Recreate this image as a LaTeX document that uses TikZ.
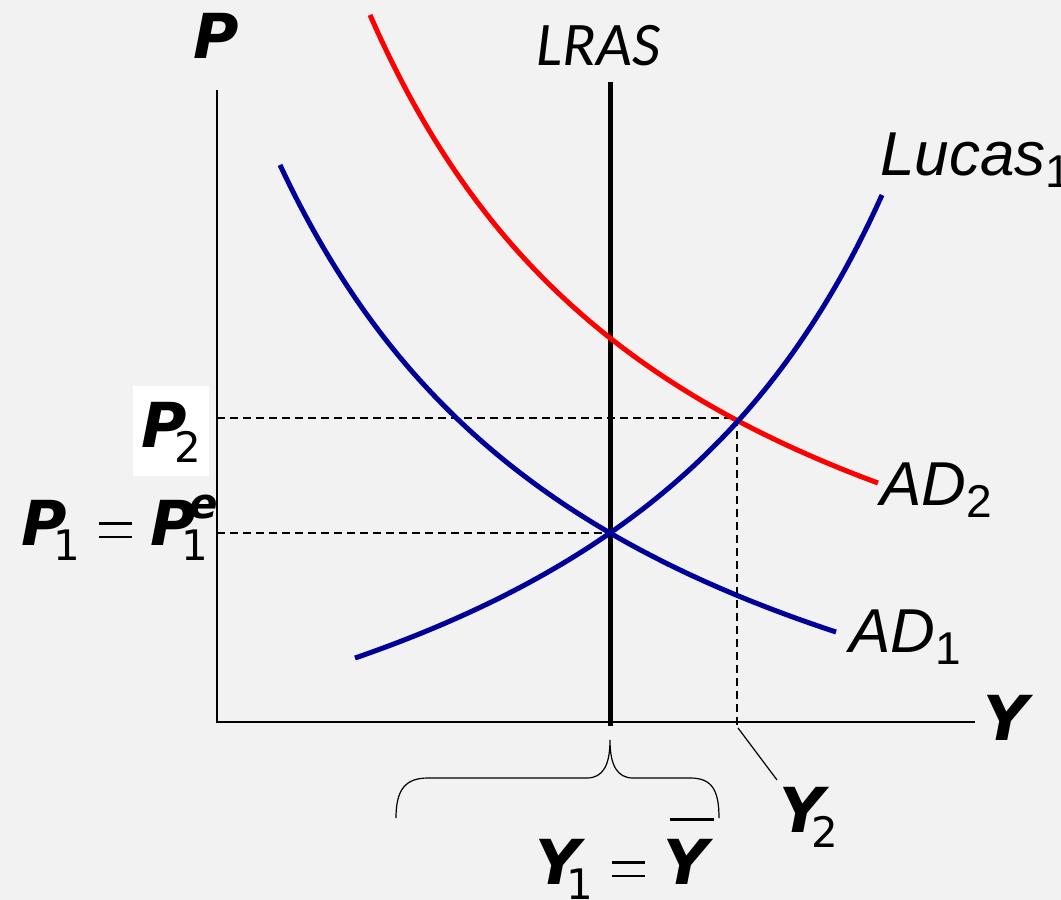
\documentclass[tikz,border=0pt]{standalone}
\usepackage{fontspec}
\setmainfont{Liberation Sans}
\newfontfamily\dv{DejaVu Sans}
\newfontfamily\carl{Carlito}
\newcommand\BI[1]{{\dv\bfseries\itshape #1}}
\newcommand\mysub[2][-7.5pt]{\raisebox{#1}{\dv\fontsize{21}{21}\selectfont #2}}
\newcommand\arsub[1]{\raisebox{-6pt}{\upshape\fontsize{23}{23}\selectfont #1}}
\newcommand\myeq{\rlap{\raisebox{10pt}{\rule{16.5pt}{1.3pt}}}\raisebox{3.3pt}{\rule{16.5pt}{1.3pt}}}
\definecolor{bg}{HTML}{F2F2F2}
\definecolor{navy}{HTML}{000099}
\tikzset{
  lbl/.style={inner sep=0pt, font=\fontsize{31}{31}\selectfont},
  curve/.style={line width=2.5pt},
  axis/.style={line width=1pt, black},
  guide/.style={line width=0.6pt, dash pattern=on 4pt off 2.5pt},
  thin/.style={line width=0.6pt},
}
\begin{document}
\begin{tikzpicture}[x=0.5pt,y=-0.5pt]
\fill[bg] (0,0) rectangle (1061,900);
\useasboundingbox (0,0) rectangle (1061,900);
\coordinate (O) at (217,722);
\coordinate (Ytop) at (217,90);
\coordinate (Xend) at (975,722);
\coordinate (E1) at (610,533);
\coordinate (E2) at (737,418);
% axes
\draw[axis] (Ytop) -- (O) -- (Xend);
% guides
\draw[guide] (O |- E2) -- (E2);
\draw[guide] (O |- E1) -- (E1);
\draw[guide] (E2) -- (E2 |- O) -- ++(0,4);
% LRAS
\draw[line width=2.5pt] (610,82) -- (610,726);
% curves
\draw[curve, navy] plot[domain=280:836, samples=90] (\x,{934.1-276.653/((\x+79.7)/1000)});
\draw[curve, red] plot[domain=370:878, samples=90] (\x,{797.6-267.258/((\x-28.5)/1000)});
\draw[curve, navy] plot[domain=355:882, samples=90] (\x,{959.7-262.571/((1225.4-\x)/1000)});
% brace
\coordinate (BL) at (396,818);
\coordinate (BR) at (719,818);
\coordinate (BT) at (610,740);
\draw[thin] (BL) .. controls (396,790) and (405,778) .. (428,778) -- (587,778)
  .. controls (603,778) and (610,765) .. (BT)
  .. controls (610,765) and (617,778) .. (633,778) -- (690,778)
  .. controls (712,778) and (719,790) .. (BR);
% labels
\node[lbl, anchor=base west] (Plab) at (193,58) {\BI{P}};
\node[lbl, anchor=base west] (Ylab) at (983,740) {\BI{Y}};
\node[lbl, anchor=base west] (LRAS) at (536,65) {\carl\itshape LRAS};
\node[lbl, anchor=base west] (Lucas) at (880,175) {\itshape Lucas\arsub{1}};
\node[lbl, anchor=base west] (AD2) at (880,505) {\itshape AD\arsub{2}};
\node[lbl, anchor=base west] (AD1) at (849,652) {\itshape AD\arsub{1}};
\node[lbl, fill=white, minimum width=38pt, minimum height=45pt] (P2) at (171,431) {};
\node[lbl, anchor=base west] (P2t) at (141,447) {\BI{P}\kern-0.2em\mysub{2}};
\node[lbl, anchor=base west] (P1) at (21,545) {\BI{P}\kern-0.22em\mysub{1}\kern0.3em\myeq\kern0.3em\BI{P}\kern-0.22em\rlap{\kern4pt\raisebox{13.5pt}{\dv\bfseries\itshape\fontsize{21}{21}\selectfont e}}\mysub{1}};
\node[lbl, anchor=base west] (Y2) at (779,832) {\BI{Y}\kern-0.2em\mysub{2}};
\node[lbl, anchor=base west] (Y1) at (535,884) {\BI{Y}\kern-0.22em\mysub{1}\kern0.3em\myeq\kern0.3em\rlap{\raisebox{31.5pt}{\kern3pt\rule{22pt}{1.4pt}}}\BI{Y}};
\coordinate (Y2ptr) at (777,780);
\draw[thin] (738,728) -- (Y2ptr);
\end{tikzpicture}
\end{document}
